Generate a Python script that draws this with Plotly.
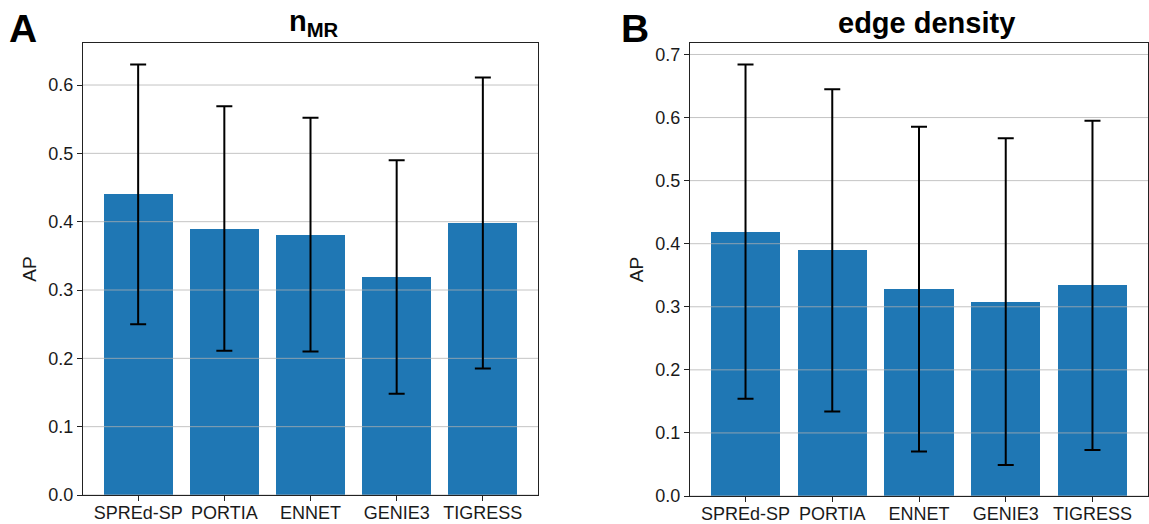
import plotly.graph_objects as go

methods = ["SPREd-SP", "PORTIA", "ENNET", "GENIE3", "TIGRESS"]

# Panel A: n_MR
ap_nmr_mean = [0.440, 0.390, 0.381, 0.319, 0.398]
ap_nmr_std = [0.190, 0.179, 0.171, 0.171, 0.213]

# Panel B: edge density
ap_ed_mean = [0.419, 0.3895, 0.328, 0.308, 0.334]
ap_ed_std = [0.265, 0.2555, 0.2575, 0.259, 0.261]

yticks_a = [0.0, 0.1, 0.2, 0.3, 0.4, 0.5, 0.6]
yticks_b = [0.0, 0.1, 0.2, 0.3, 0.4, 0.5, 0.6, 0.7]

W, H = 1149, 524
FONT = "Liberation Sans, Arial, Helvetica, sans-serif"
BAR = "#1f77b4"
xpos = list(range(len(methods)))
xr = [-0.64, len(methods) - 1 + 0.64]

fig = go.Figure()


def add_panel(means, stds, yticks, xa, ya):
    fig.add_trace(go.Bar(x=xpos, y=means, width=0.8, marker=dict(color=BAR, line=dict(width=0)),
                         xaxis=xa, yaxis=ya, showlegend=False, hoverinfo="skip"))
    gx, gy = [], []
    for t in yticks:
        gx += [xr[0], xr[1], None]
        gy += [t, t, None]
    fig.add_trace(go.Scatter(x=gx, y=gy, mode="lines", line=dict(color="rgba(176,176,176,0.75)", width=1),
                             xaxis=xa, yaxis=ya, showlegend=False, hoverinfo="skip"))
    fig.add_trace(go.Scatter(x=xpos, y=means, mode="markers", marker=dict(size=1, opacity=0),
                             error_y=dict(type="data", array=stds, visible=True, color="black",
                                          thickness=2, width=8),
                             xaxis=xa, yaxis=ya, showlegend=False, hoverinfo="skip"))


add_panel(ap_nmr_mean, ap_nmr_std, yticks_a, "x", "y")
add_panel(ap_ed_mean, ap_ed_std, yticks_b, "x2", "y2")

ymax_a = max(m + s for m, s in zip(ap_nmr_mean, ap_nmr_std)) * 1.05
ymax_b = max(m + s for m, s in zip(ap_ed_mean, ap_ed_std)) * 1.05

axis_common = dict(showline=True, mirror=True, linecolor="#222", linewidth=1,
                   ticks="outside", ticklen=5, tickcolor="#222", tickwidth=1,
                   showgrid=False, zeroline=False, automargin=False)
xfont = dict(family=FONT, size=18, color="#1a1a1a")
yfont = dict(family=FONT, size=18, color="#1a1a1a")
ytitle = dict(text="AP", font=dict(family=FONT, size=19, color="#1a1a1a"), standoff=6)

fig.update_layout(
    template="none",
    width=W, height=H, margin=dict(l=0, r=0, t=0, b=0, autoexpand=False),
    paper_bgcolor="white", plot_bgcolor="white",
    xaxis=dict(domain=[83 / W, 538 / W], range=xr, tickvals=xpos, ticktext=methods, anchor="y",
               tickfont=xfont, ticklabelstandoff=-4, **axis_common),
    yaxis=dict(domain=[1 - 495 / H, 1 - 43 / H], range=[0, ymax_a], tickvals=yticks_a, tickformat=".1f",
               anchor="x", title=ytitle, tickfont=yfont, **axis_common),
    xaxis2=dict(domain=[690 / W, 1148 / W], range=xr, tickvals=xpos, ticktext=methods, anchor="y2",
                tickfont=xfont, ticklabelstandoff=-4, **axis_common),
    yaxis2=dict(domain=[1 - 496 / H, 1 - 43 / H], range=[0, ymax_b], tickvals=yticks_b, tickformat=".1f",
                anchor="x2", title=ytitle, tickfont=yfont, **axis_common),
    bargap=0,
)

fig.add_annotation(text="<b>A</b>", xref="paper", yref="paper", x=7 / W, y=1 - 29 / H,
                   xanchor="left", yanchor="middle", showarrow=False,
                   font=dict(family=FONT, size=39, color="black"))
fig.add_annotation(text="<b>B</b>", xref="paper", yref="paper", x=619 / W, y=1 - 29 / H,
                   xanchor="left", yanchor="middle", showarrow=False,
                   font=dict(family=FONT, size=39, color="black"))
fig.add_annotation(text="<b>n<sub>MR</sub></b>", xref="paper", yref="paper", x=314 / W, y=1 - 23 / H,
                   xanchor="center", yanchor="middle", showarrow=False,
                   font=dict(family=FONT, size=29, color="black"))
fig.add_annotation(text="<b>edge density</b>", xref="paper", yref="paper", x=926 / W, y=1 - 23 / H,
                   xanchor="center", yanchor="middle", showarrow=False,
                   font=dict(family=FONT, size=29, color="black"))

fig.write_html("out.html")
